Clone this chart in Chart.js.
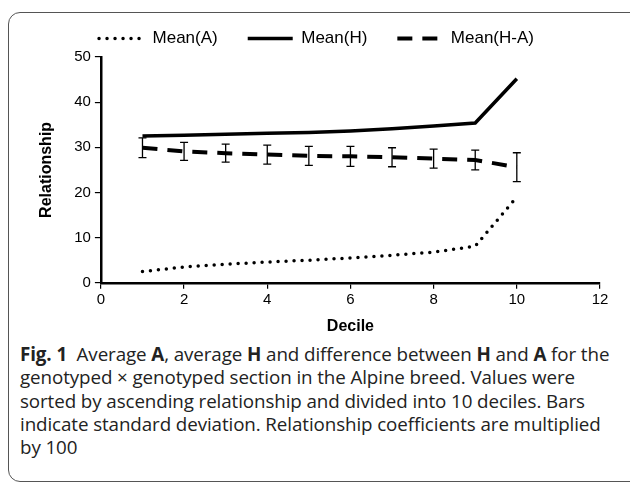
<!DOCTYPE html>
<html>
<head>
<meta charset="utf-8">
<script src="https://cdn.jsdelivr.net/npm/chart.js@4/dist/chart.umd.min.js"></script>
<style>
  body { margin: 0; background: #fff; width: 630px; height: 487px; overflow: hidden; position: relative; }
  #frame {
    position: absolute; left: 8px; top: 12px; width: 640px; height: 470px;
    border: 1.5px solid #555; border-radius: 12px; box-sizing: border-box;
  }
  #chart { position: absolute; left: 0; top: 0; }
  #caption {
    position: absolute; left: 20px; top: 343px;
    font-family: "Open Sans", sans-serif; font-size: 18.8px; line-height: 23.3px;
    color: #222; white-space: nowrap; letter-spacing: -0.1px;
  }
  #caption b { font-weight: 700; }
</style>
</head>
<body>
<div id="frame"></div>
<canvas id="chart" width="630" height="340"></canvas>
<div id="caption">
  <b>Fig. 1</b>&nbsp; Average <b>A</b>, average <b>H</b> and difference between <b>H</b> and <b>A</b> for the<br>
  genotyped × genotyped section in the Alpine breed. Values were<br>
  sorted by ascending relationship and divided into 10 deciles. Bars<br>
  indicate standard deviation. Relationship coefficients are multiplied<br>
  by 100
</div>
<script>
const deciles = [1, 2, 3, 4, 5, 6, 7, 8, 9, 10];
const meanA = [2.5, 3.5, 4.1, 4.6, 5.0, 5.5, 6.1, 6.8, 8.1, 19.0];
const meanH = [32.5, 32.7, 32.9, 33.1, 33.3, 33.6, 34.1, 34.7, 35.4, 45.2];
const meanHA = [29.9, 29.1, 28.7, 28.4, 28.1, 28.0, 27.8, 27.5, 27.2, 25.6];
const sdHA = [2.2, 2.0, 2.0, 2.1, 2.1, 2.2, 2.1, 2.1, 2.2, 3.2];
const xTicks = [0, 2, 4, 6, 8, 10, 12];
const yTicks = [0, 10, 20, 30, 40, 50];

const toPoints = (ys) => deciles.map((x, i) => ({ x, y: ys[i] }));

// draws the +/- SD whiskers on the H-A series
const errorBars = {
  id: 'errorBars',
  afterDatasetsDraw(chart) {
    const { ctx, scales } = chart;
    ctx.save();
    ctx.strokeStyle = '#000';
    ctx.lineWidth = 1.3;
    ctx.setLineDash([]);
    deciles.forEach((d, i) => {
      const x = scales.x.getPixelForValue(d);
      const top = scales.y.getPixelForValue(meanHA[i] + sdHA[i]);
      const bottom = scales.y.getPixelForValue(meanHA[i] - sdHA[i]);
      ctx.beginPath();
      ctx.moveTo(x, top);
      ctx.lineTo(x, bottom);
      ctx.moveTo(x - 4, top);
      ctx.lineTo(x + 4, top);
      ctx.moveTo(x - 4, bottom);
      ctx.lineTo(x + 4, bottom);
      ctx.stroke();
    });
    ctx.restore();
  },
};

const FAMILY = "'Liberation Sans', Arial, sans-serif";
const axisFont = { family: FAMILY, size: 15 };
const titleFont = { family: FAMILY, size: 16, weight: 'bold' };

new Chart(document.getElementById('chart'), {
  type: 'line',
  data: {
    datasets: [
      {
        label: 'Mean(A)',
        data: toPoints(meanA),
        borderColor: '#000',
        borderWidth: 3.5,
        borderDash: [0, 8],
        borderCapStyle: 'round',
        pointRadius: 0,
        tension: 0,
      },
      {
        label: 'Mean(H)',
        data: toPoints(meanH),
        borderColor: '#000',
        borderWidth: 3.5,
        pointRadius: 0,
        tension: 0,
      },
      {
        label: 'Mean(H-A)',
        data: toPoints(meanHA),
        borderColor: '#000',
        borderWidth: 4,
        borderDash: [15, 10],
        pointRadius: 0,
        tension: 0,
      },
    ],
  },
  options: {
    responsive: false,
    animation: false,
    layout: { padding: { left: 33, right: 30, top: 0, bottom: 4 } },
    plugins: {
      tooltip: { enabled: false },
      legend: {
        position: 'top',
        labels: {
          usePointStyle: true,
          pointStyle: 'line',
          pointStyleWidth: 45,
          padding: 30,
          color: '#000',
          font: { family: FAMILY, size: 17 },
          generateLabels: (chart) =>
            chart.data.datasets.map((ds, i) => ({
              text: ds.label,
              datasetIndex: i,
              pointStyle: 'line',
              strokeStyle: ds.borderColor,
              fillStyle: ds.borderColor,
              lineWidth: ds.borderWidth,
              lineDash: ds.borderDash || [],
              lineCap: ds.borderCapStyle || 'butt',
              fontColor: '#000',
            })),
        },
      },
    },
    scales: {
      x: {
        type: 'linear',
        min: 0,
        max: 12,
        afterBuildTicks: (axis) => { axis.ticks = xTicks.map((v) => ({ value: v })); },
        border: { color: '#000', width: 2.5 },
        grid: { drawOnChartArea: false, color: '#000', tickLength: 6, lineWidth: 1.2 },
        ticks: { color: '#000', font: axisFont, padding: 2 },
        title: { display: true, text: 'Decile', color: '#000', font: titleFont, padding: { top: 6, bottom: 0 } },
      },
      y: {
        min: 0,
        max: 50,
        afterBuildTicks: (axis) => { axis.ticks = yTicks.map((v) => ({ value: v })); },
        border: { color: '#000', width: 2.5 },
        grid: { drawOnChartArea: false, color: '#000', tickLength: 6, lineWidth: 1.2 },
        ticks: { color: '#000', font: axisFont, padding: 4 },
        title: { display: true, text: 'Relationship', color: '#000', font: titleFont, padding: { top: 4, bottom: 14 } },
      },
    },
  },
  plugins: [errorBars],
});
</script>
</body>
</html>
